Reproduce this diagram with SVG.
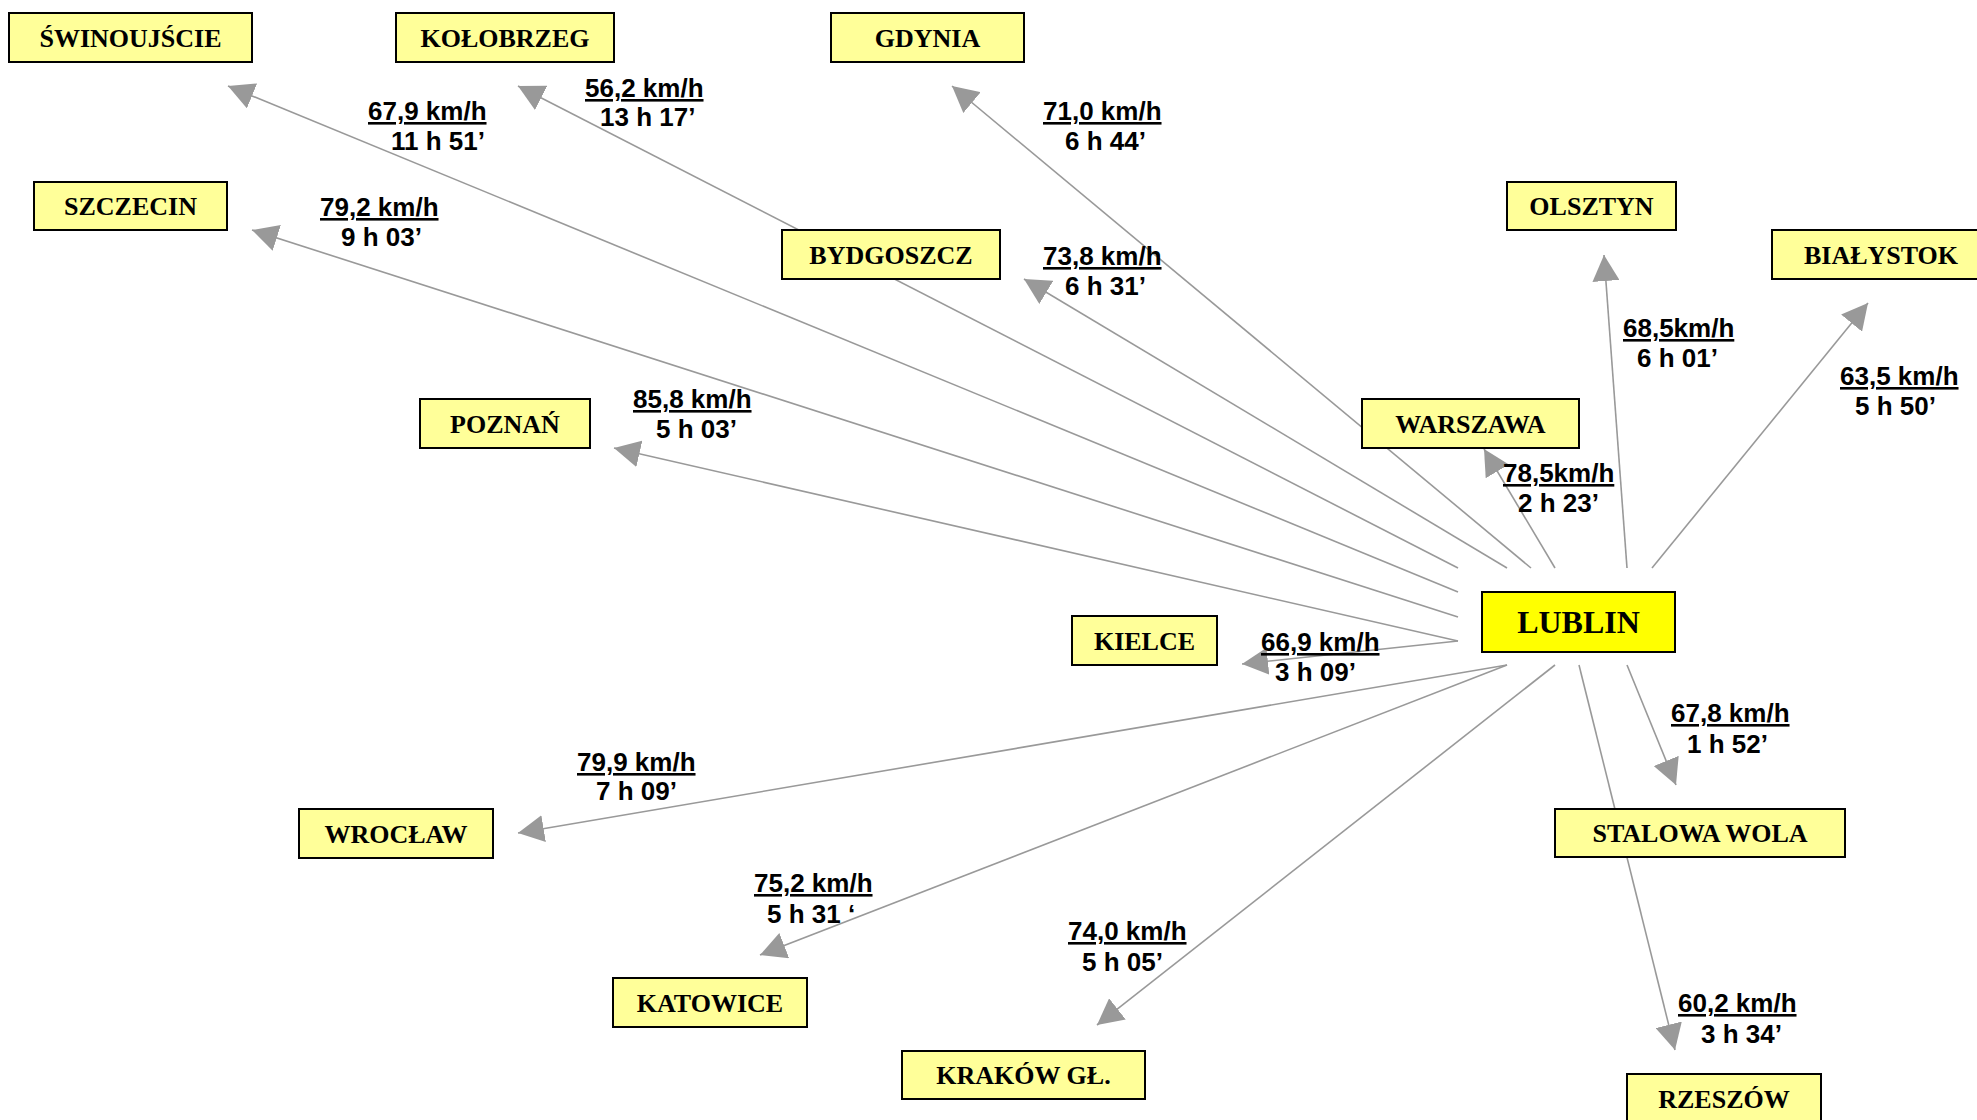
<svg xmlns="http://www.w3.org/2000/svg" width="1977" height="1120" viewBox="0 0 1977 1120">
<style>
.box{fill:#FFFF99;stroke:#000;stroke-width:2}
.main{fill:#FFFF00;stroke:#000;stroke-width:2}
.nt{font-family:"Liberation Serif","Times New Roman",serif;font-weight:bold;font-size:26px;fill:#000;text-anchor:middle}
.lt{font-family:"Liberation Serif","Times New Roman",serif;font-weight:bold;font-size:32px;fill:#000;text-anchor:middle}
.ln{stroke:#999;stroke-width:1.6;fill:none;marker-end:url(#ah)}
.sp{font-family:"Liberation Sans",Arial,sans-serif;font-weight:bold;font-size:26px;fill:#000;text-decoration:underline}
.tm{font-family:"Liberation Sans",Arial,sans-serif;font-weight:bold;font-size:26px;fill:#000}
</style>
<defs>
<marker id="ah" viewBox="0 0 26 27" refX="26" refY="13.5" markerWidth="26" markerHeight="27" markerUnits="userSpaceOnUse" orient="auto">
<path d="M0,0 L26,13.5 L0,27 z" fill="#999"/>
</marker>
</defs>
<rect width="1977" height="1120" fill="#fff"/>
<g id="connectors">
<line class="ln" x1="1458" y1="592" x2="228" y2="86"/>
<line class="ln" x1="1458" y1="568" x2="518" y2="86"/>
<line class="ln" x1="1531" y1="568" x2="952" y2="86"/>
<line class="ln" x1="1458" y1="617" x2="252" y2="230"/>
<line class="ln" x1="1507" y1="568" x2="1024" y2="279"/>
<line class="ln" x1="1458" y1="641" x2="614" y2="448"/>
<line class="ln" x1="1458" y1="641" x2="1242" y2="664"/>
<line class="ln" x1="1555" y1="568" x2="1484" y2="449"/>
<line class="ln" x1="1627" y1="568" x2="1604" y2="255"/>
<line class="ln" x1="1652" y1="568" x2="1868" y2="303"/>
<line class="ln" x1="1627" y1="665" x2="1676" y2="785"/>
<line class="ln" x1="1579" y1="665" x2="1675" y2="1050"/>
<line class="ln" x1="1555" y1="665" x2="1097" y2="1025"/>
<line class="ln" x1="1507" y1="665" x2="760" y2="955"/>
<line class="ln" x1="1507" y1="665" x2="518" y2="833"/>
</g>
<g id="labels">
<text class="sp" x="368" y="120">67,9 km/h</text><text class="tm" x="391" y="150">11 h 51’</text>
<text class="sp" x="585" y="97">56,2 km/h</text><text class="tm" x="600" y="126">13 h 17’</text>
<text class="sp" x="1043" y="120">71,0 km/h</text><text class="tm" x="1065" y="150">6 h 44’</text>
<text class="sp" x="1043" y="265">73,8 km/h</text><text class="tm" x="1065" y="295">6 h 31’</text>
<text class="sp" x="320" y="216">79,2 km/h</text><text class="tm" x="341" y="246">9 h 03’</text>
<text class="sp" x="633" y="408">85,8 km/h</text><text class="tm" x="656" y="438">5 h 03’</text>
<text class="sp" x="1623" y="337">68,5km/h</text><text class="tm" x="1637" y="367">6 h 01’</text>
<text class="sp" x="1840" y="385">63,5 km/h</text><text class="tm" x="1855" y="415">5 h 50’</text>
<text class="sp" x="1503" y="482">78,5km/h</text><text class="tm" x="1518" y="512">2 h 23’</text>
<text class="sp" x="1261" y="651">66,9 km/h</text><text class="tm" x="1275" y="681">3 h 09’</text>
<text class="sp" x="1671" y="722">67,8 km/h</text><text class="tm" x="1687" y="753">1 h 52’</text>
<text class="sp" x="1678" y="1012">60,2 km/h</text><text class="tm" x="1701" y="1043">3 h 34’</text>
<text class="sp" x="1068" y="940">74,0 km/h</text><text class="tm" x="1082" y="971">5 h 05’</text>
<text class="sp" x="754" y="892">75,2 km/h</text><text class="tm" x="767" y="923">5 h 31 ‘</text>
<text class="sp" x="577" y="771">79,9 km/h</text><text class="tm" x="596" y="800">7 h 09’</text>
</g>
<g id="swinoujscie"><rect class="box" x="9" y="13" width="243" height="49"/><text class="nt" x="130.5" y="46.5">ŚWINOUJŚCIE</text></g>
<g id="kolobrzeg"><rect class="box" x="396" y="13" width="218" height="49"/><text class="nt" x="505" y="46.5">KOŁOBRZEG</text></g>
<g id="gdynia"><rect class="box" x="831" y="13" width="193" height="49"/><text class="nt" x="927.5" y="46.5">GDYNIA</text></g>
<g id="szczecin"><rect class="box" x="34" y="182" width="193" height="48"/><text class="nt" x="130.5" y="215">SZCZECIN</text></g>
<g id="bydgoszcz"><rect class="box" x="782" y="230" width="218" height="49"/><text class="nt" x="891" y="263.5">BYDGOSZCZ</text></g>
<g id="olsztyn"><rect class="box" x="1507" y="182" width="169" height="48"/><text class="nt" x="1591.5" y="215">OLSZTYN</text></g>
<g id="bialystok"><rect class="box" x="1772" y="230" width="220" height="49"/><text class="nt" x="1881" y="263.5">BIAŁYSTOK</text></g>
<g id="poznan"><rect class="box" x="420" y="399" width="170" height="49"/><text class="nt" x="505" y="432.5">POZNAŃ</text></g>
<g id="warszawa"><rect class="box" x="1362" y="399" width="217" height="49"/><text class="nt" x="1470.5" y="432.5">WARSZAWA</text></g>
<g id="lublin"><rect class="main" x="1482" y="592" width="193" height="60"/><text class="lt" x="1578.5" y="632.5">LUBLIN</text></g>
<g id="kielce"><rect class="box" x="1072" y="616" width="145" height="49"/><text class="nt" x="1144.5" y="649.5">KIELCE</text></g>
<g id="stalowa-wola"><rect class="box" x="1555" y="809" width="290" height="48"/><text class="nt" x="1700" y="842">STALOWA WOLA</text></g>
<g id="wroclaw"><rect class="box" x="299" y="809" width="194" height="49"/><text class="nt" x="396" y="842.5">WROCŁAW</text></g>
<g id="katowice"><rect class="box" x="613" y="978" width="194" height="49"/><text class="nt" x="710" y="1011.5">KATOWICE</text></g>
<g id="krakow"><rect class="box" x="902" y="1051" width="243" height="48"/><text class="nt" x="1023.5" y="1084">KRAKÓW GŁ.</text></g>
<g id="rzeszow"><rect class="box" x="1627" y="1074" width="194" height="50"/><text class="nt" x="1724" y="1108">RZESZÓW</text></g>
</svg>
